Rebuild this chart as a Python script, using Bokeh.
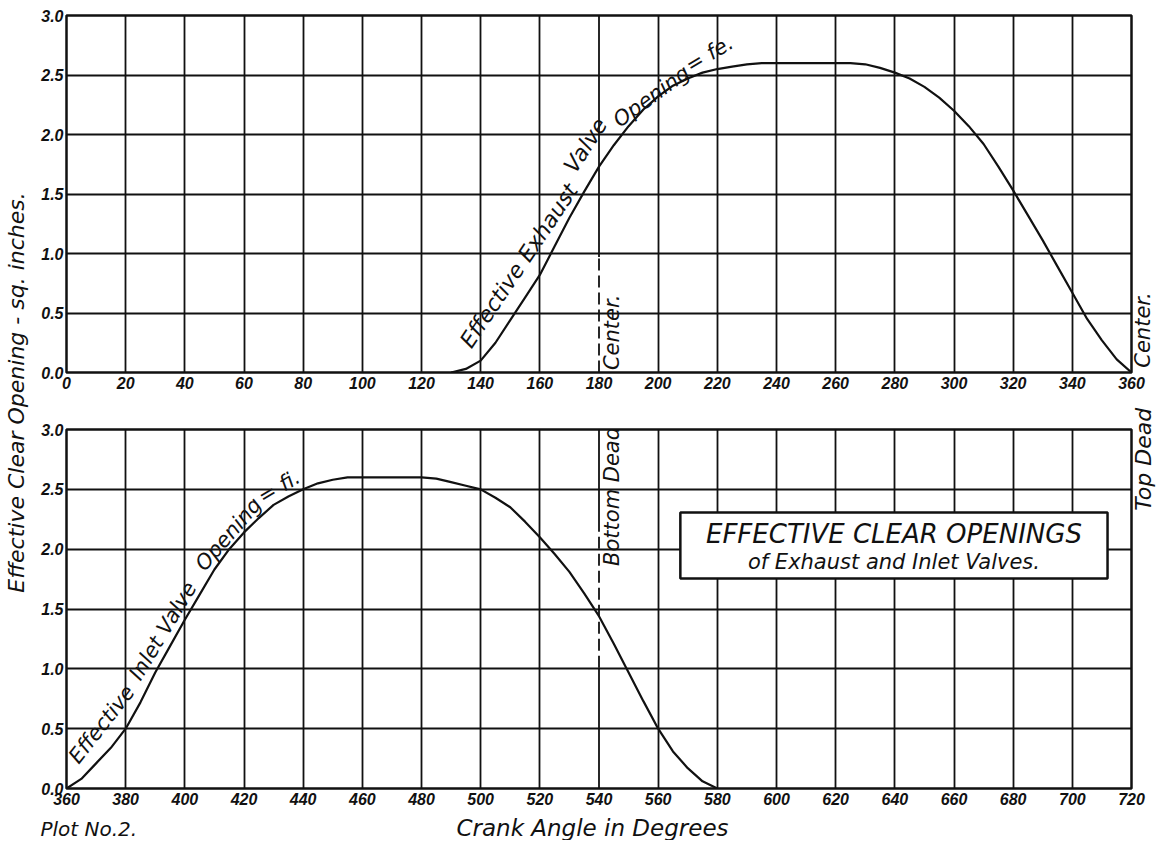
from bokeh.plotting import figure
from bokeh.layouts import row, column
from bokeh.models import Range1d, FixedTicker, Label, BoxAnnotation, PrintfTickFormatter
from bokeh.embed import file_html
from bokeh.resources import INLINE

# ---------------- data ----------------
exhaust_deg = [130, 135, 140, 145, 150, 155, 160, 165, 170, 175, 180, 185, 190, 195, 200,
               205, 210, 215, 220, 225, 230, 235, 240, 245, 250, 255, 260, 265, 270, 275,
               280, 285, 290, 295, 300, 305, 310, 315, 320, 325, 330, 335, 340, 345, 350,
               355, 360]
exhaust_val = [0.00, 0.03, 0.10, 0.25, 0.44, 0.63, 0.82, 1.06, 1.30, 1.52, 1.73, 1.91, 2.07, 2.21, 2.32,
               2.41, 2.47, 2.52, 2.55, 2.57, 2.59, 2.60, 2.60, 2.60, 2.60, 2.60, 2.60, 2.60, 2.59, 2.56,
               2.52, 2.47, 2.40, 2.31, 2.20, 2.07, 1.92, 1.73, 1.53, 1.32, 1.11, 0.89, 0.67, 0.45, 0.27,
               0.11, 0.00]

inlet_deg = [360, 365, 370, 375, 380, 385, 390, 395, 400, 405, 410, 415, 420, 425, 430,
             435, 440, 445, 450, 455, 460, 465, 470, 475, 480, 485, 490, 495, 500, 505,
             510, 515, 520, 525, 530, 535, 540, 545, 550, 555, 560, 565, 570, 575, 580]
inlet_val = [0.00, 0.08, 0.21, 0.34, 0.50, 0.72, 0.97, 1.19, 1.41, 1.62, 1.83, 2.00, 2.14, 2.26, 2.37,
             2.44, 2.50, 2.55, 2.58, 2.60, 2.60, 2.60, 2.60, 2.60, 2.60, 2.59, 2.56, 2.53, 2.50, 2.43,
             2.35, 2.23, 2.10, 1.96, 1.81, 1.63, 1.44, 1.21, 0.97, 0.73, 0.50, 0.31, 0.17, 0.06, 0.00]

top_ticks = [0, 20, 40, 60, 80, 100, 120, 140, 160, 180, 200, 220, 240, 260, 280, 300, 320, 340, 360]
bottom_ticks = [360, 380, 400, 420, 440, 460, 480, 500, 520, 540, 560, 580, 600, 620, 640, 660,
                680, 700, 720]
y_ticks = [0.0, 0.5, 1.0, 1.5, 2.0, 2.5, 3.0]

bdc_top = 180
bdc_bottom = 540

# ---------------- styling ----------------
INK = "#111111"
LETTER = "DejaVu Sans"
TICKFONT = "Liberation Sans"


def style(p, ticks, bdc):
    p.outline_line_color = INK
    p.outline_line_width = 2.5
    p.xaxis.ticker = FixedTicker(ticks=ticks)
    p.yaxis.ticker = FixedTicker(ticks=y_ticks)
    p.yaxis.formatter = PrintfTickFormatter(format="%.1f")
    for ax in (p.xaxis, p.yaxis):
        ax.axis_line_color = None
        ax.major_tick_in = 0
        ax.major_tick_out = 0
        ax.minor_tick_line_color = None
        ax.major_label_text_font = TICKFONT
        ax.major_label_text_font_style = "bold italic"
        ax.major_label_text_font_size = "16px"
        ax.major_label_text_color = INK
    p.xaxis.major_label_standoff = 4
    p.yaxis.major_label_standoff = 3
    p.xgrid.ticker = FixedTicker(ticks=[t for t in ticks if t != bdc])
    p.ygrid.ticker = FixedTicker(ticks=y_ticks[1:-1])
    for g in (p.xgrid, p.ygrid):
        g.grid_line_color = INK
        g.grid_line_width = 1.8
        g.grid_line_alpha = 1.0
    p.background_fill_color = "white"
    p.border_fill_color = "white"


def lab(p, x, y, text, size, angle=0, align="left", baseline="bottom", place="center"):
    lbl = Label(x=x, y=y, text=text, angle=angle, angle_units="deg",
                text_font=LETTER, text_font_style="italic",
                text_font_size=size, text_color=INK,
                text_align=align, text_baseline=baseline)
    p.add_layout(lbl, place)


def bare(w, h):
    f = figure(width=w, height=h, x_range=Range1d(0, w), y_range=Range1d(0, h),
               min_border=0, x_axis_location=None, y_axis_location=None,
               toolbar_location=None, output_backend="svg")
    f.outline_line_color = None
    f.grid.visible = False
    return f


# ---------------- top panel: exhaust ----------------
top = figure(width=1118, height=392, x_range=Range1d(0, 360), y_range=Range1d(0, 3.0),
             min_border_left=27, min_border_right=25, min_border_top=15, min_border_bottom=20,
             toolbar_location=None, output_backend="svg")
style(top, top_ticks, bdc_top)
top.segment(x0=[bdc_top], y0=[0.97], x1=[bdc_top], y1=[3.0], line_color=INK, line_width=1.8)
top.segment(x0=[bdc_top], y0=[0.0], x1=[bdc_top], y1=[0.97], line_color=INK, line_width=1.8,
            line_dash="12 5")
top.line(exhaust_deg, exhaust_val, line_color=INK, line_width=2.2)

lab(top, 138.3, 0.17, "Effective Exhaust", "22px", angle=56)
lab(top, 173.5, 1.64, "Valve", "22px", angle=57)
lab(top, 188.0, 2.02, "Opening", "21px", angle=36)
lab(top, 212.0, 2.48, "= fe.", "21px", angle=31)
lab(top, 184.5, 0.02, "Center.", "21px", angle=90, baseline="alphabetic")
lab(top, 363.9, 0.04, "Center.", "21px", angle=90, baseline="alphabetic", place="right")

# ---------------- bottom panel: inlet ----------------
bottom = figure(width=1118, height=420, x_range=Range1d(360, 720), y_range=Range1d(0, 3.0),
                min_border_left=27, min_border_right=25, min_border_top=37, min_border_bottom=24,
                toolbar_location=None, output_backend="svg")
style(bottom, bottom_ticks, bdc_bottom)
bottom.segment(x0=[bdc_bottom, bdc_bottom], y0=[2.16, 0.0], x1=[bdc_bottom, bdc_bottom],
               y1=[3.0, 1.01], line_color=INK, line_width=1.8)
bottom.segment(x0=[bdc_bottom], y0=[1.01], x1=[bdc_bottom], y1=[2.16], line_color=INK,
               line_width=1.8, line_dash="12 5")
bottom.line(inlet_deg, inlet_val, line_color=INK, line_width=2.2)

lab(bottom, 365.5, 0.17, "Effective", "21px", angle=52)
lab(bottom, 386.5, 0.87, "Inlet Valve", "21px", angle=59)
lab(bottom, 408.0, 1.78, "Opening", "21px", angle=49)
lab(bottom, 427.5, 2.34, "= fi.", "21px", angle=31)
lab(bottom, 544.5, 1.86, "Bottom Dead", "21px", angle=90, baseline="alphabetic")
lab(bottom, 723.9, 2.32, "Top Dead", "22px", angle=90, baseline="alphabetic", place="right")

bottom.add_layout(BoxAnnotation(left=567.5, right=711.9, bottom=1.755, top=2.306,
                                fill_color="white", fill_alpha=1.0,
                                line_color=INK, line_alpha=1.0, line_width=2.5))
lab(bottom, 639.7, 2.13, "EFFECTIVE CLEAR OPENINGS", "26px", align="center", baseline="middle")
lab(bottom, 639.7, 1.89, "of Exhaust and Inlet Valves.", "21px", align="center", baseline="middle")

# ---------------- left strip with the shared y-axis title ----------------
ylab = bare(38, 812)
ylab.add_layout(Label(x=16, y=420, text="Effective Clear Opening - sq. inches.", angle=90,
                      angle_units="deg", text_font=LETTER, text_font_style="italic",
                      text_font_size="22px", text_color=INK, text_align="center",
                      text_baseline="alphabetic"))

# ---------------- footer: plot number and x-axis title ----------------
footer = bare(1156, 28)
footer.add_layout(Label(x=40, y=0, text="Plot No.2.", text_font=LETTER,
                        text_font_style="italic", text_font_size="20px", text_color=INK,
                        text_align="left", text_baseline="bottom"))
footer.add_layout(Label(x=592, y=0, text="Crank Angle in Degrees", text_font=LETTER,
                        text_font_style="italic", text_font_size="23px", text_color=INK,
                        text_align="center", text_baseline="bottom"))

layout = column(row(ylab, column(top, bottom)), footer)
open("out.html", "w").write(file_html(layout, INLINE))
